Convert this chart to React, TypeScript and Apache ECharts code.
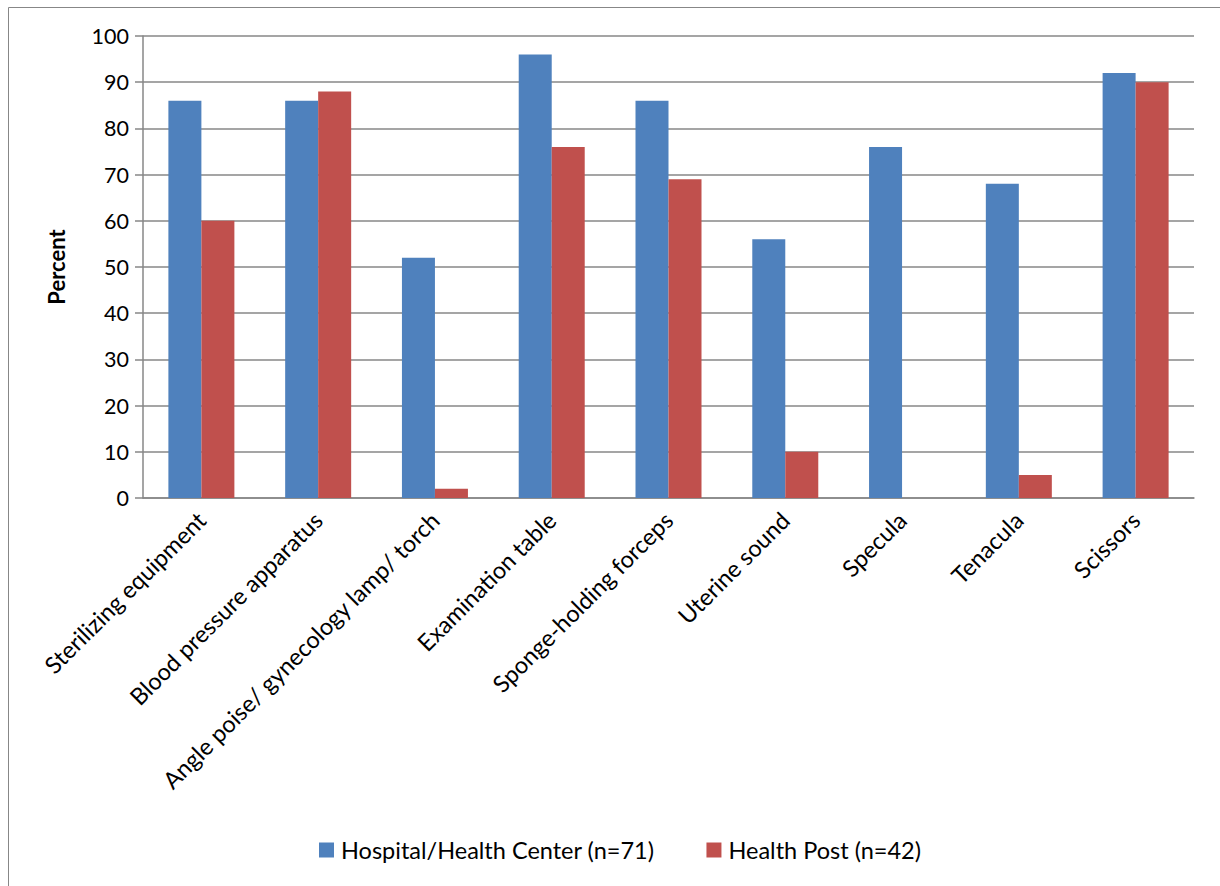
import React, { useEffect, useRef } from "react";
import * as echarts from "echarts";

const categories = [
  "Sterilizing equipment",
  "Blood pressure apparatus",
  "Angle poise/ gynecology lamp/ torch",
  "Examination table",
  "Sponge-holding forceps",
  "Uterine sound",
  "Specula",
  "Tenacula",
  "Scissors",
];
const hospitalValues = [86, 86, 52, 96, 86, 56, 76, 68, 92];
const healthPostValues = [60, 88, 2, 76, 69, 10, 0, 5, 90];
const seriesNames = ["Hospital/Health Center (n=71)", "Health Post (n=42)"];

const FONT = "Lato, 'Open Sans', sans-serif";

export default function App() {
  const ref = useRef<HTMLDivElement>(null);
  useEffect(() => {
    if (!ref.current) return;
    const chart = echarts.init(ref.current, undefined, { renderer: "svg" });
    chart.setOption({
      animation: false,
      backgroundColor: "#ffffff",
      graphic: [
        {
          type: "rect",
          shape: { x: 8.5, y: 7.5, width: 1400, height: 1000 },
          style: { fill: "none", stroke: "#878787", lineWidth: 1 },
          silent: true,
          z: -1,
        },
      ],
      grid: { left: 143, top: 36, right: 26, bottom: 388, containLabel: false },
      legend: {
        left: 314,
        top: 833,
        itemWidth: 15,
        itemHeight: 15,
        itemGap: 52,
        icon: "rect",
        textStyle: { fontFamily: FONT, fontSize: 23.5, color: "#000", padding: [0, 0, 0, 2] },
        data: seriesNames,
      },
      xAxis: {
        type: "category",
        data: categories,
        axisLine: { lineStyle: { color: "#878787", width: 1.5 } },
        axisTick: { length: 8, lineStyle: { color: "#878787", width: 1.5 } },
        axisLabel: {
          rotate: 45,
          interval: 0,
          margin: 18,
          fontFamily: FONT,
          fontSize: 23.5,
          color: "#000",
        },
      },
      yAxis: {
        type: "value",
        min: 0,
        max: 100,
        interval: 10,
        name: "Percent",
        nameLocation: "middle",
        nameRotate: 90,
        nameGap: 76,
        nameTextStyle: { fontFamily: FONT, fontSize: 22, fontWeight: "bold", color: "#000" },
        axisLine: { show: true, lineStyle: { color: "#878787", width: 1.5 } },
        axisTick: { show: true, length: 8, lineStyle: { color: "#878787", width: 1.5 } },
        axisLabel: { fontFamily: FONT, fontSize: 21.5, color: "#000", margin: 14 },
        splitLine: { lineStyle: { color: "#878787", width: 1.5 } },
      },
      series: [
        {
          name: seriesNames[0],
          type: "bar",
          data: hospitalValues,
          barWidth: 33,
          barGap: "0%",
          itemStyle: { color: "#4F81BD" },
        },
        {
          name: seriesNames[1],
          type: "bar",
          data: healthPostValues,
          barWidth: 33,
          barGap: "0%",
          itemStyle: { color: "#C0504D" },
        },
      ],
    });
    return () => chart.dispose();
  }, []);
  return (
    <div
      ref={ref}
      style={{ position: "fixed", left: 0, top: 0, width: 1220, height: 886 }}
    />
  );
}
